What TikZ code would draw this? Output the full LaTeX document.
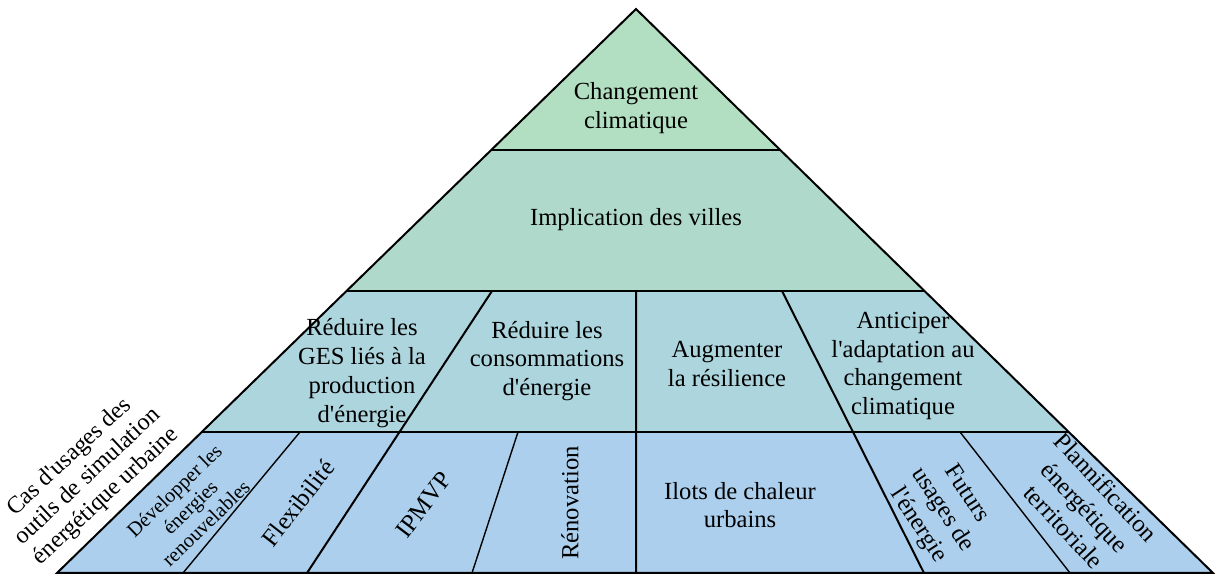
\documentclass[tikz,border=0pt]{standalone}
\usepackage{fontspec}
\setmainfont{Liberation Serif}
\usetikzlibrary{calc}
\definecolor{lvlclim}{RGB}{178,223,193}
\definecolor{lvlville}{RGB}{174,217,203}
\definecolor{lvlobj}{RGB}{173,213,222}
\definecolor{lvlcas}{RGB}{171,207,236}
\newcommand{\ap}{\textquotesingle}

\begin{document}
\begin{tikzpicture}[x=0.5pt,y=-0.5pt,font=\fontsize{12.3}{14.4}\selectfont,
  lbl/.style={align=center,inner sep=1pt},
  small/.style={lbl,font=\fontsize{10.2}{11.4}\selectfont},
  edge/.style={line width=1pt,line join=miter},
  sep/.style={line width=0.7pt}]
  \useasboundingbox (0,0) rectangle (1215,576);
  \coordinate (top) at (636,9);
  \coordinate (bl) at (57,573);
  \coordinate (br) at (1213,573);
  \foreach \i/\t in {1/.25,2/.5,3/.75}{
    \coordinate (l\i) at ($(top)!\t!(bl)$);
    \coordinate (r\i) at ($(top)!\t!(br)$);}
  % bands
  \fill[lvlclim] (top) -- (r1) -- (l1) -- cycle;
  \fill[lvlville] (l1) -- (r1) -- (r2) -- (l2) -- cycle;
  \fill[lvlobj] (l2) -- (r2) -- (r3) -- (l3) -- cycle;
  \fill[lvlcas] (l3) -- (r3) -- (br) -- (bl) -- cycle;
  % dividers
  \coordinate (ges) at (492,291); \coordinate (gesb) at (307,573);
  \coordinate (mid) at (636,291); \coordinate (midb) at (636,573);
  \coordinate (ant) at (782,291); \coordinate (antb) at (924,573);
  \coordinate (flx) at (300,432); \coordinate (flxb) at (183,573);
  \coordinate (ren) at (518,432); \coordinate (renb) at (472,573);
  \coordinate (plan) at (960,432); \coordinate (planb) at (1070,573);
  \draw[edge] (ges) -- (gesb) (mid) -- (midb) (ant) -- (antb);
  \draw[sep] (flx) -- (flxb) (ren) -- (renb) (plan) -- (planb);
  \draw[edge] (l1) -- (r1) (l2) -- (r2) (l3) -- (r3);
  \draw[edge] (top) -- (br) -- (bl) -- cycle;
  \draw[line width=1.4pt] (bl) -- (br);
  % labels
  \node[lbl] (clim) at (636,108) {Changement\\climatique};
  \node[lbl] (ville) at (636,220) {Implication des villes};
  \node[lbl] (redges) at (362,373) {Réduire les\\GES liés à la\\production\\d\ap énergie};
  \node[lbl] (redcons) at (547,361) {Réduire les\\consommations\\d\ap énergie};
  \node[lbl] (resil) at (727,364) {Augmenter\\la résilience};
  \node[lbl] (adapt) at (903,366) {Anticiper\\l\ap adaptation au\\changement\\climatique};
  \node[small,rotate=44] (enr) at (190,507) {Développer les\\énergies\\renouvelables};
  \node[lbl,rotate=52] (flex) at (298,503) {Flexibilité};
  \node[lbl,rotate=53] (ipmvp) at (424,505) {IPMVP};
  \node[lbl,rotate=90] (reno) at (570,503) {Rénovation};
  \node[lbl] (ilots) at (740,505) {Ilots de chaleur\\urbains};
  \node[lbl,rotate=-57] (futurs) at (942,510) {Futurs\\usages de\\l\ap énergie};
  \node[lbl,rotate=-47] (planif) at (1085,507) {Plannification\\énergétique\\territoriale};
  \node[lbl,rotate=43,font=\fontsize{12}{13.4}\selectfont] (cas) at (88,477)
    {Cas d\ap usages des\\outils de simulation\\énergétique urbaine};
\end{tikzpicture}
\end{document}
